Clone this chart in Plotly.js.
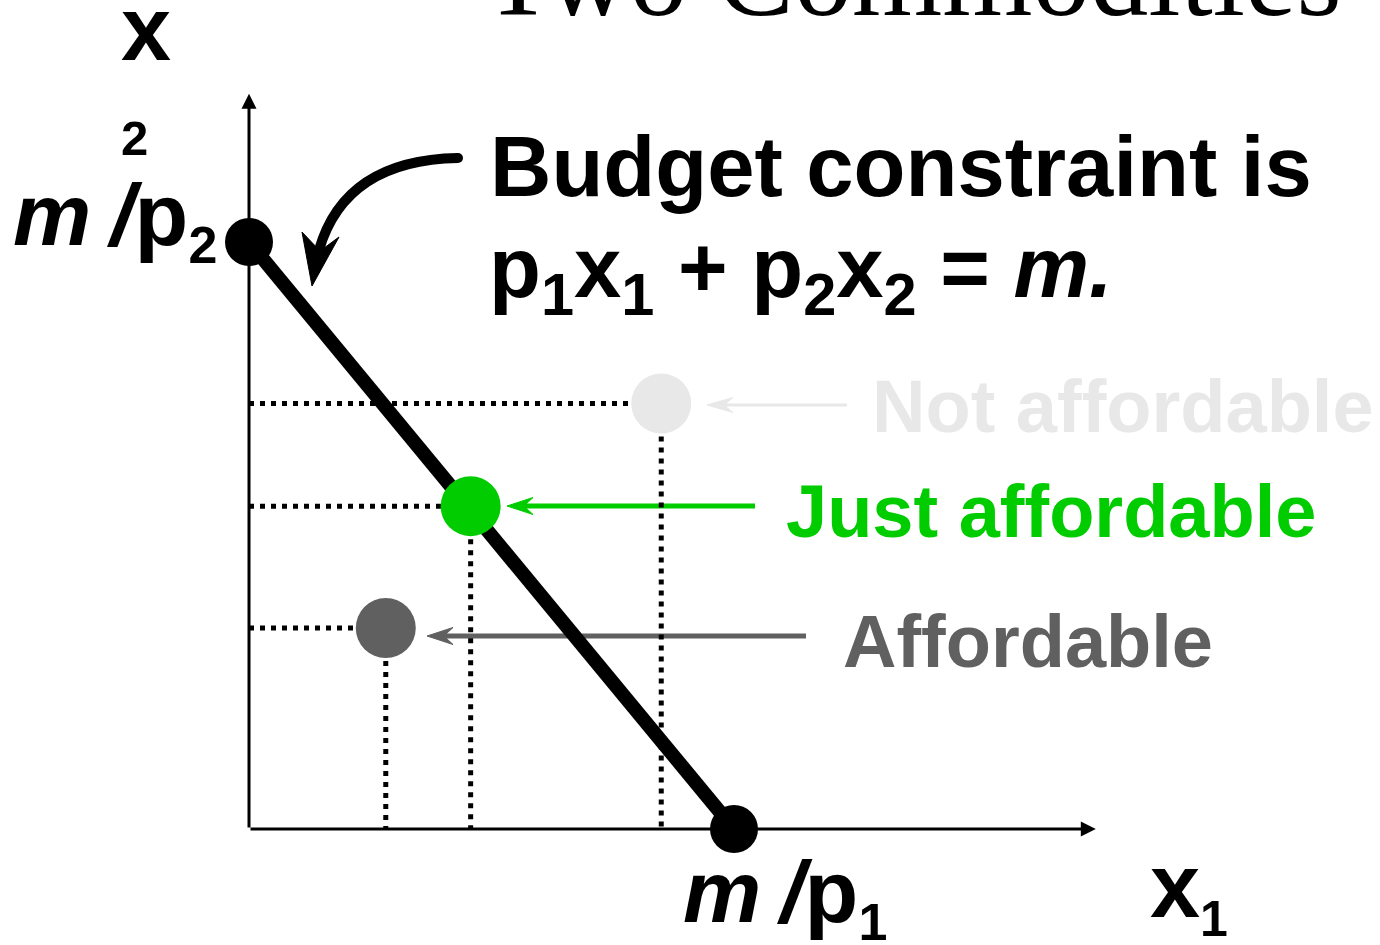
<!DOCTYPE html>
<html>
<head>
<meta charset="utf-8">
<script src="https://cdn.plot.ly/plotly-3.0.1.min.js"></script>
<style>
  html, body { margin: 0; padding: 0; background: #ffffff; }
  #chart { width: 1380px; height: 945px; }
</style>
</head>
<body>
<div id="chart"></div>
<script>
// ---------------- DATA ----------------
const interceptX1 = 10;      // m/p1 on the x1 axis
const interceptX2 = 12;      // m/p2 on the x2 axis
const budgetX1 = [0, interceptX1];
const budgetX2 = [interceptX2, 0];

const bundleNames = ['Not affordable', 'Just affordable', 'Affordable'];
const bundleX1 = [8.5, 4.57, 2.82];
const bundleX2 = [8.70, 6.6, 4.11];

const axisEndX1 = 17.46;
const axisEndX2 = 15.03;

const titleText = 'Two Commodities';
const constraintLine1 = 'Budget constraint is';
const constraintLine2 = 'p<sub>1</sub>x<sub>1</sub> + p<sub>2</sub>x<sub>2</sub> = <i>m.</i>';
const labelX2Letter = 'x';
const labelX2Index = '2';
const thinSpace = '<span style="font-size:68px"> </span>';
const labelInterceptX2 = '<i>m</i>' + thinSpace + '<i>/</i>p<sub><span style="font-size:52px">2</span></sub>';
const labelInterceptX1 = '<i>m</i>' + thinSpace + '<i>/</i>p<sub><span style="font-size:52px">1</span></sub>';
const labelX1 = 'x<sub><span style="font-size:50px">1</span></sub>';

// ---------------- STYLE / LAYOUT ----------------
const W = 1380, H = 945;
const OX = 249, OY = 829;          // pixel position of the origin
const SX = 48.5, SY = 48.917;      // pixels per data unit
const X = px => (px - OX) / SX;    // layout pixel -> data (decorations only)
const Y = py => (OY - py) / SY;
const PX = px => px / W;           // layout pixel -> paper
const PY = py => 1 - py / H;

const bundleColors = ['#e8e8e8', '#00cc00', '#606060'];
const SANS = 'Liberation Sans, Arial, sans-serif';
const SERIF = 'Liberation Serif, Times New Roman, serif';

const traces = [];
// dotted guide lines
const dotLine = {color: '#000000', width: 5, dash: '5px,6px'};
for (let i = 0; i < bundleX1.length; i++) {
  traces.push({x: [0, bundleX1[i]], y: [bundleX2[i], bundleX2[i]], mode: 'lines',
               line: dotLine, hoverinfo: 'skip', showlegend: false});
  traces.push({x: [bundleX1[i], bundleX1[i]], y: [bundleX2[i], 0], mode: 'lines',
               line: dotLine, hoverinfo: 'skip', showlegend: false});
}
// budget line
traces.push({x: budgetX1, y: budgetX2, mode: 'lines+markers',
             line: {color: '#000000', width: 14},
             marker: {color: '#000000', size: 48, opacity: 1, line: {width: 0}},
             hoverinfo: 'skip', showlegend: false});
// bundles
traces.push({x: bundleX1, y: bundleX2, mode: 'markers', text: bundleNames,
             marker: {color: bundleColors, size: 60, opacity: 1, line: {width: 0}},
             hoverinfo: 'text', showlegend: false});

// curved arrow (shaft + head) built from control points in layout pixels
const cStart = [458, 158], cCtrl = [345, 160], cEnd = [319, 250];
const hTip = [312, 286], hB1 = [302, 232], hB2 = [339, 237], hNotch = [320, 251];
const P = p => X(p[0]) + ',' + Y(p[1]);
const shapes = [
  {type: 'path', xref: 'x', yref: 'y',
   path: 'M' + P(cStart) + ' Q' + P(cCtrl) + ' ' + P(cEnd),
   line: {color: '#000000', width: 10}},
  {type: 'path', xref: 'x', yref: 'y',
   path: 'M' + P(hTip) + ' L' + P(hB1) + ' L' + P(hNotch) + ' L' + P(hB2) + ' Z',
   fillcolor: '#000000', line: {color: '#000000', width: 1}},
  {type: 'circle', xref: 'x', yref: 'y',
   x0: X(cStart[0] - 5), x1: X(cStart[0] + 5), y0: Y(cStart[1] - 5), y1: Y(cStart[1] + 5),
   fillcolor: '#000000', line: {width: 0}}
];

// pointer arrows to the bundles (drawn below the traces)
const pointerTips = [[707, 405], [507, 506], [427, 636]];
const pointerTails = [847, 755, 806];
const pointerWidths = [3, 5, 5];
const pointerHead = [[26, 15], [26, 17], [26, 17]];   // length, width in px
for (let i = 0; i < 3; i++) {
  const [tx, ty] = pointerTips[i];
  const [L, Wd] = pointerHead[i];
  shapes.push({type: 'line', xref: 'x', yref: 'y', layer: 'below',
    x0: X(tx + L * 0.6), x1: X(pointerTails[i]), y0: Y(ty), y1: Y(ty),
    line: {color: bundleColors[i], width: pointerWidths[i]}});
  shapes.push({type: 'path', xref: 'x', yref: 'y', layer: 'below',
    path: 'M' + P([tx, ty]) + ' L' + P([tx + L, ty - Wd / 2]) + ' L' + P([tx + L * 0.65, ty]) +
          ' L' + P([tx + L, ty + Wd / 2]) + ' Z',
    fillcolor: bundleColors[i], line: {color: bundleColors[i], width: 1}});
}

const annotations = [];
// axes with arrow heads
annotations.push({x: axisEndX1, y: 0, ax: 0, ay: 0, xref: 'x', yref: 'y', axref: 'x', ayref: 'y',
  text: '', showarrow: true, arrowhead: 2, arrowsize: 1, arrowwidth: 3, arrowcolor: '#000000', standoff: 0});
annotations.push({x: 0, y: axisEndX2, ax: 0, ay: 0, xref: 'x', yref: 'y', axref: 'x', ayref: 'y',
  text: '', showarrow: true, arrowhead: 2, arrowsize: 1, arrowwidth: 3, arrowcolor: '#000000', standoff: 0});

function label(text, px, pyTop, size, color, family, bold) {
  return {text: bold ? '<b>' + text + '</b>' : text, xref: 'paper', yref: 'paper',
    x: PX(px), y: PY(pyTop), xanchor: 'left', yanchor: 'top', showarrow: false,
    font: {family: family || SANS, size: size, color: color || '#000000'}};
}
annotations.push(label(titleText, 481, -90, 116, '#000000', SERIF, false));
annotations.push(label(constraintLine1, 488, 117, 85, '#000000', SANS, true));
annotations.push(label(constraintLine2, 487, 218, 85, '#000000', SANS, true));
annotations.push(label(labelX2Letter, 119, -23, 90, '#000000', SANS, true));
annotations.push(label(labelX2Index, 119, 109, 49, '#000000', SANS, true));
annotations.push(label(labelInterceptX2, 11, 163, 88, '#000000', SANS, true));
annotations.push(label(labelInterceptX1, 681, 840, 88, '#000000', SANS, true));
annotations.push(label(labelX1, 1148, 834, 90, '#000000', SANS, true));
const bundleLabelPos = [[870, 363], [784, 468], [841, 598]];
for (let i = 0; i < 3; i++) {
  annotations.push(label(bundleNames[i], bundleLabelPos[i][0], bundleLabelPos[i][1], 74,
                         bundleColors[i], SANS, true));
}

const layout = {
  width: W, height: H,
  margin: {l: 0, r: 0, t: 0, b: 0},
  paper_bgcolor: '#ffffff', plot_bgcolor: '#ffffff',
  xaxis: {range: [X(0), X(W)], visible: false, fixedrange: true},
  yaxis: {range: [Y(H), Y(0)], visible: false, fixedrange: true},
  shapes: shapes,
  annotations: annotations,
  showlegend: false
};

Plotly.newPlot('chart', traces, layout, {displayModeBar: false, staticPlot: true});
</script>
</body>
</html>
